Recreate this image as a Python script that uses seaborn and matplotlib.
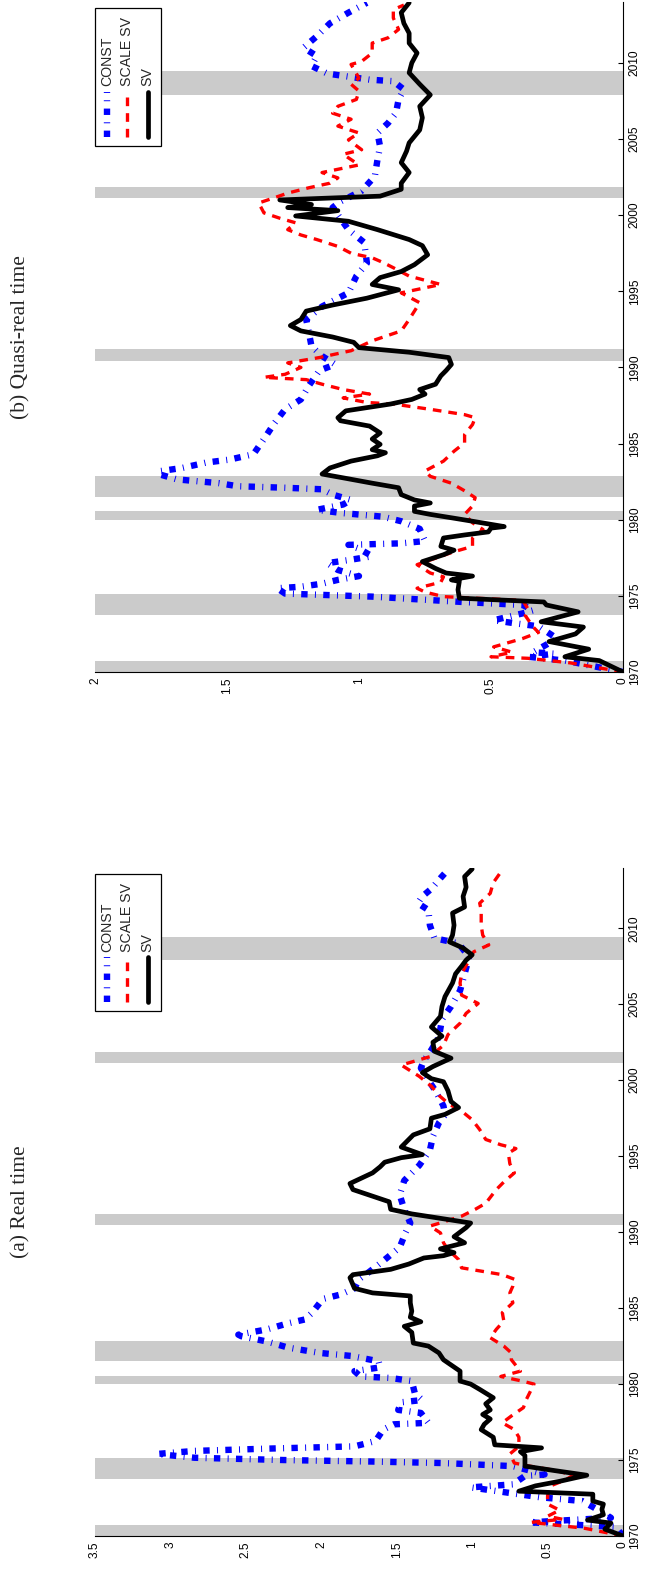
import matplotlib
matplotlib.use("Agg")
import matplotlib.pyplot as plt
from matplotlib.patches import Rectangle
from matplotlib.lines import Line2D
import seaborn as sns
import pandas as pd

# ---------------------------------------------------------------------------
# Data: (a) real-time and (b) quasi-real-time estimates, dated in years
# ---------------------------------------------------------------------------
rt_sv_years = [1970.0, 1970.45, 1970.85, 1971.05, 1971.4, 1971.75, 1972.1, 1972.3, 1972.75, 1972.95,
               1973.3, 1973.6, 1974.0, 1974.3, 1974.6, 1975.3, 1975.55, 1975.8, 1976.0, 1976.5,
               1977.0, 1977.35, 1977.7, 1978.0, 1978.3, 1978.7, 1979.1, 1979.65, 1980.0, 1980.2,
               1980.85, 1981.6, 1982.05, 1982.5, 1982.7, 1983.4, 1983.8, 1984.1, 1984.4, 1984.8,
               1985.35, 1985.8, 1986.0, 1986.3, 1987.0, 1987.2, 1987.55, 1987.9, 1988.3, 1988.45,
               1988.65, 1988.9, 1989.3, 1989.7, 1990.3, 1990.6, 1991.2, 1991.5, 1992.0, 1992.8,
               1993.2, 1993.9, 1994.3, 1994.6, 1994.9, 1995.1, 1995.6, 1996.4, 1996.8, 1997.5,
               1997.75, 1998.2, 1998.6, 1999.3, 1999.9, 2000.1, 2000.5, 2000.9, 2001.45, 2001.9,
               2002.5, 2002.9, 2003.5, 2004.2, 2004.85, 2005.5, 2006.4, 2007.0, 2007.5, 2007.9,
               2008.25, 2008.7, 2009.1, 2009.55, 2010.2, 2011.0, 2011.4, 2012.1, 2012.7, 2013.4,
               2013.9]
rt_sv = [0.00, 0.12, 0.08, 0.235, 0.13, 0.14, 0.13, 0.20, 0.20, 0.69,
         0.58, 0.42, 0.24, 0.45, 0.65, 0.65, 0.68, 0.54, 0.85, 0.86,
         0.94, 0.92, 0.88, 0.93, 0.88, 0.91, 0.86, 0.95, 1.01, 1.08,
         1.08, 1.19, 1.22, 1.29, 1.39, 1.40, 1.45, 1.34, 1.41, 1.40,
         1.41, 1.41, 1.66, 1.78, 1.81, 1.79, 1.54, 1.42, 1.32, 1.19,
         1.12, 1.21, 1.05, 1.12, 1.04, 1.01, 1.40, 1.54, 1.55, 1.79,
         1.81, 1.66, 1.61, 1.58, 1.47, 1.33, 1.47, 1.39, 1.28, 1.27,
         1.18, 1.09, 1.14, 1.16, 1.19, 1.27, 1.33, 1.26, 1.14, 1.25,
         1.26, 1.20, 1.27, 1.21, 1.20, 1.18, 1.13, 1.11, 1.07, 1.04,
         1.00, 1.06, 1.15, 1.13, 1.12, 1.13, 1.05, 1.06, 1.04, 1.05,
         1.00]

rt_const_years = [1970.0, 1970.6, 1970.9, 1971.2, 1971.8, 1972.3, 1972.55, 1973.2, 1973.4, 1973.95,
                  1974.05, 1974.6, 1974.8, 1974.9, 1975.0, 1975.15, 1975.4, 1975.6, 1975.75, 1975.9,
                  1976.25, 1977.0, 1977.35, 1977.45, 1978.1, 1978.3, 1978.8, 1978.95, 1979.4, 1980.2,
                  1980.4, 1980.5, 1980.85, 1981.1, 1981.5, 1981.85, 1982.05, 1982.4, 1982.8, 1983.15,
                  1983.25, 1983.6, 1984.0, 1984.25, 1984.7, 1985.6, 1985.9, 1986.3, 1986.9, 1987.4,
                  1988.1, 1989.0, 1990.0, 1990.6, 1991.5, 1992.45, 1993.4, 1994.4, 1995.4, 1996.3,
                  1997.2, 1997.7, 1998.3, 1999.25, 2000.0, 2000.8, 2001.3, 2002.0, 2002.85, 2004.0,
                  2004.85, 2005.9, 2007.0, 2008.1, 2009.0, 2009.35, 2010.2, 2011.2, 2011.65, 2012.1,
                  2012.6, 2013.3, 2013.85]
rt_const = [0.00, 0.05, 0.62, 0.08, 0.18, 0.27, 0.55, 1.01, 0.73, 0.65,
            0.52, 0.73, 1.19, 1.66, 2.25, 2.84, 3.09, 2.84, 2.36, 1.78,
            1.64, 1.59, 1.52, 1.29, 1.34, 1.49, 1.47, 1.33, 1.38, 1.40,
            1.54, 1.74, 1.78, 1.61, 1.62, 1.80, 2.01, 2.22, 2.36, 2.53,
            2.55, 2.36, 2.22, 2.11, 2.06, 1.99, 1.87, 1.78, 1.75, 1.68,
            1.59, 1.48, 1.44, 1.41, 1.45, 1.48, 1.45, 1.35, 1.28, 1.26,
            1.22, 1.18, 1.19, 1.24, 1.29, 1.34, 1.32, 1.27, 1.22, 1.20,
            1.14, 1.08, 1.05, 1.02, 1.09, 1.25, 1.28, 1.29, 1.36, 1.33,
            1.27, 1.21, 1.16]

rt_scale_years = [1970.0, 1970.5, 1970.9, 1971.1, 1971.3, 1971.7, 1972.1, 1972.65, 1973.3, 1973.7,
                  1974.0, 1974.3, 1974.6, 1974.8, 1975.4, 1975.9, 1976.5, 1977.0, 1977.45, 1977.9,
                  1978.45, 1979.0, 1980.0, 1980.2, 1980.5, 1980.85, 1981.6, 1982.05, 1982.5, 1983.05,
                  1983.6, 1984.15, 1984.7, 1985.35, 1986.0, 1986.45, 1986.9, 1987.2, 1987.65, 1988.2,
                  1988.85, 1989.3, 1989.95, 1990.4, 1990.7, 1991.05, 1991.5, 1991.9, 1992.8, 1993.3,
                  1993.9, 1994.5, 1995.2, 1995.5, 1995.75, 1996.1, 1996.75, 1997.4, 1998.05, 1998.4,
                  1999.0, 1999.6, 2000.25, 2001.0, 2001.2, 2001.55, 2002.3, 2003.0, 2003.75, 2004.4,
                  2005.05, 2005.6, 2006.4, 2007.0, 2007.9, 2008.45, 2008.9, 2009.55, 2010.2, 2011.2,
                  2011.65, 2012.3, 2013.0, 2013.7]
rt_scale = [0.00, 0.25, 0.61, 0.40, 0.50, 0.42, 0.50, 0.50, 0.48, 0.38,
            0.33, 0.44, 0.62, 0.72, 0.75, 0.69, 0.69, 0.72, 0.80, 0.74,
            0.66, 0.64, 0.59, 0.67, 0.81, 0.68, 0.74, 0.74, 0.79, 0.88,
            0.84, 0.79, 0.80, 0.73, 0.75, 0.73, 0.72, 0.80, 1.07, 1.09,
            1.16, 1.19, 1.21, 1.28, 1.18, 1.07, 0.98, 0.91, 0.84, 0.79,
            0.72, 0.75, 0.76, 0.71, 0.81, 0.91, 0.95, 1.00, 1.08, 1.15,
            1.22, 1.27, 1.35, 1.47, 1.40, 1.28, 1.19, 1.16, 1.08, 1.04,
            0.96, 1.07, 1.08, 1.07, 1.02, 0.99, 0.89, 0.93, 0.94, 0.94,
            0.95, 0.88, 0.86, 0.81]

qrt_sv_years = [1970.0, 1970.75, 1971.0, 1971.5, 1972.0, 1972.5, 1972.95, 1973.3, 1973.95, 1974.4,
                1974.6, 1974.85, 1975.4, 1975.95, 1976.05, 1976.3, 1976.5, 1976.8, 1977.25, 1977.7,
                1978.0, 1978.25, 1978.8, 1979.0, 1979.2, 1979.45, 1979.55, 1979.9, 1980.1, 1980.35,
                1980.55, 1980.9, 1981.1, 1981.3, 1981.65, 1982.1, 1982.4, 1982.75, 1983.0, 1983.4,
                1983.85, 1984.2, 1984.4, 1984.6, 1984.95, 1985.3, 1985.7, 1986.15, 1986.5, 1986.7,
                1987.15, 1987.6, 1987.9, 1988.25, 1988.55, 1988.9, 1989.45, 1989.8, 1990.2, 1990.65,
                1991.0, 1991.3, 1991.65, 1992.0, 1992.4, 1992.75, 1993.15, 1993.7, 1994.1, 1994.55,
                1995.1, 1995.45, 1995.9, 1996.3, 1996.75, 1997.4, 1998.0, 1998.4, 1999.05, 1999.6,
                1999.95, 2000.3, 2000.5, 2000.7, 2001.0, 2001.25, 2001.7, 2002.1, 2002.8, 2003.45,
                2004.2, 2004.75, 2005.6, 2006.4, 2007.15, 2007.9, 2008.6, 2009.35, 2010.0, 2010.65,
                2011.3, 2011.95, 2012.6, 2013.3, 2013.95]
qrt_sv = [0.00, 0.09, 0.22, 0.13, 0.28, 0.18, 0.15, 0.31, 0.17, 0.29,
          0.30, 0.62, 0.625, 0.62, 0.65, 0.57, 0.67, 0.71, 0.76, 0.68,
          0.64, 0.69, 0.68, 0.60, 0.51, 0.50, 0.45, 0.57, 0.64, 0.73,
          0.79, 0.79, 0.73, 0.79, 0.84, 0.85, 0.95, 1.06, 1.14, 1.11,
          1.03, 0.93, 0.90, 0.95, 0.92, 0.95, 0.92, 0.96, 1.07, 1.08,
          1.05, 0.88, 0.80, 0.75, 0.77, 0.71, 0.69, 0.67, 0.65, 0.66,
          0.81, 1.00, 1.02, 1.10, 1.22, 1.26, 1.22, 1.20, 1.10, 0.97,
          0.85, 0.95, 0.92, 0.84, 0.79, 0.74, 0.76, 0.81, 0.93, 1.04,
          1.24, 1.08, 1.27, 1.18, 1.30, 0.92, 0.84, 0.84, 0.81, 0.84,
          0.82, 0.81, 0.77, 0.76, 0.77, 0.73, 0.77, 0.81, 0.80, 0.78,
          0.81, 0.81, 0.83, 0.84, 0.81]

qrt_const_years = [1970.0, 1970.75, 1971.0, 1971.2, 1971.3, 1972.2, 1973.0, 1973.2, 1973.4, 1973.85,
                   1974.05, 1974.4, 1974.6, 1974.95, 1975.15, 1975.5, 1975.6, 1975.8, 1976.05, 1976.3,
                   1976.7, 1977.15, 1977.35, 1977.6, 1978.1, 1978.35, 1978.45, 1978.6, 1979.4, 1979.9,
                   1980.2, 1980.45, 1980.65, 1981.0, 1981.3, 1981.65, 1982.0, 1982.1, 1982.2, 1982.4,
                   1982.65, 1983.0, 1983.2, 1983.4, 1983.75, 1983.95, 1984.3, 1985.3, 1986.35, 1987.25,
                   1987.9, 1988.8, 1989.8, 1990.2, 1990.75, 1991.4, 1992.3, 1993.15, 1994.0, 1994.9,
                   1996.0, 1996.85, 1998.2, 1999.05, 2000.5, 2000.9, 2001.6, 2002.55, 2003.65, 2004.5,
                   2005.4, 2006.05, 2006.7, 2007.6, 2008.25, 2008.8, 2008.9, 2009.1, 2009.3, 2009.8,
                   2010.45, 2011.0, 2011.75, 2012.6, 2013.3, 2013.95]
qrt_const = [0.00, 0.22, 0.36, 0.26, 0.34, 0.25, 0.32, 0.41, 0.49, 0.38,
             0.34, 0.38, 0.61, 0.95, 1.28, 1.31, 1.22, 1.14, 1.08, 1.00,
             1.08, 1.12, 1.04, 0.95, 1.00, 1.04, 0.84, 0.75, 0.77, 0.84,
             0.91, 1.07, 1.16, 1.06, 1.03, 1.10, 1.14, 1.28, 1.46, 1.53,
             1.69, 1.76, 1.75, 1.67, 1.58, 1.49, 1.40, 1.36, 1.32, 1.28,
             1.22, 1.19, 1.15, 1.09, 1.14, 1.18, 1.19, 1.20, 1.14, 1.04,
             1.01, 0.97, 0.98, 1.04, 1.10, 1.07, 0.99, 0.94, 0.93, 0.92,
             0.93, 0.89, 0.86, 0.85, 0.83, 0.87, 0.96, 1.04, 1.12, 1.18,
             1.16, 1.21, 1.16, 1.11, 1.04, 0.97]

qrt_scale_years = [1970.0, 1970.6, 1970.9, 1971.0, 1971.3, 1971.65, 1972.2, 1972.6, 1972.95, 1973.7,
                   1974.15, 1974.7, 1974.95, 1975.25, 1975.5, 1975.9, 1976.25, 1976.5, 1977.05, 1977.6,
                   1977.9, 1978.25, 1978.8, 1979.35, 1979.8, 1980.35, 1980.9, 1981.45, 1981.9, 1982.4,
                   1982.85, 1983.2, 1983.85, 1984.5, 1985.05, 1985.6, 1986.25, 1986.7, 1986.9, 1987.25,
                   1987.6, 1987.7, 1988.0, 1988.25, 1988.55, 1988.9, 1989.2, 1989.35, 1989.55, 1990.0,
                   1990.3, 1990.65, 1991.1, 1991.75, 1992.4, 1993.15, 1993.7, 1994.25, 1994.9, 1995.45,
                   1996.0, 1996.55, 1996.9, 1997.2, 1997.5, 1997.95, 1998.4, 1998.7, 1999.05, 1999.5,
                   1999.8, 2000.15, 2000.8, 2001.15, 2001.45, 2001.8, 2002.1, 2002.45, 2002.8, 2003.3,
                   2004.0, 2004.3, 2004.95, 2005.4, 2005.85, 2006.3, 2006.7, 2007.15, 2007.6, 2008.15,
                   2008.6, 2009.0, 2009.9, 2010.1, 2010.65, 2011.3, 2011.65, 2012.2, 2012.95, 2013.5,
                   2013.8]
qrt_scale = [0.00, 0.20, 0.36, 0.50, 0.42, 0.49, 0.38, 0.32, 0.34, 0.37,
             0.36, 0.38, 0.68, 0.75, 0.78, 0.69, 0.68, 0.73, 0.78, 0.69,
             0.64, 0.57, 0.57, 0.53, 0.57, 0.60, 0.57, 0.56, 0.60, 0.65,
             0.73, 0.75, 0.68, 0.64, 0.60, 0.60, 0.57, 0.56, 0.60, 0.73,
             0.87, 0.97, 1.06, 0.96, 1.06, 1.14, 1.20, 1.36, 1.28, 1.22,
             1.27, 1.15, 1.03, 0.95, 0.84, 0.81, 0.79, 0.77, 0.84, 0.69,
             0.81, 0.87, 0.91, 0.95, 1.03, 1.08, 1.16, 1.22, 1.27, 1.24,
             1.30, 1.36, 1.38, 1.32, 1.27, 1.19, 1.11, 1.08, 1.14, 1.00,
             1.06, 0.99, 1.04, 1.00, 1.08, 1.03, 1.10, 1.08, 1.01, 1.00,
             1.03, 1.00, 1.03, 0.99, 0.95, 0.95, 0.89, 0.85, 0.87, 0.87,
             0.83]

# NBER recession periods (start, end), in years
recession_start = [1969.9, 1973.75, 1980.0, 1981.5, 1990.45, 2001.1, 2007.9]
recession_end = [1970.75, 1975.15, 1980.55, 1982.85, 1991.2, 2001.85, 2009.45]

series_labels = ["CONST", "SCALE SV", "SV"]
rt_ticks = [0, 0.5, 1, 1.5, 2, 2.5, 3, 3.5]
rt_tick_labels = ["0", "0.5", "1", "1.5", "2", "2.5", "3", "3.5"]
qrt_ticks = [0, 0.5, 1, 1.5, 2]
qrt_tick_labels = ["0", "0.5", "1", "1.5", "2"]
year_ticks = [1970, 1975, 1980, 1985, 1990, 1995, 2000, 2005, 2010]

# ---------------------------------------------------------------------------
# Styling
# ---------------------------------------------------------------------------
sns.set_style("white")
plt.rcParams["font.family"] = ["Liberation Sans", "DejaVu Sans"]
plt.rcParams["axes.linewidth"] = 0.8

BLUE = "#0000ff"
RED = "#ff0000"
BLACK = "#000000"
BAND = "#cbcbcb"

styles = {
    "CONST": dict(color=BLUE, linewidth=4.6,
                  linestyle=(0, (1.0, 1.15, 0.15, 1.15)), dash_capstyle="butt"),
    "SCALE SV": dict(color=RED, linewidth=2.4,
                     linestyle=(0, (2.6, 2.1)), dash_capstyle="butt"),
    "SV": dict(color=BLACK, linewidth=3.4, linestyle="-", solid_joinstyle="round"),
}

W, H = 645, 1571
fig = plt.figure(figsize=(W / 100, H / 100), dpi=100)

# axes boxes in pixels: left, right, top, bottom (value axis runs right-to-left)
panels = [
    dict(box=(95, 623, 867.5, 1536), vmax=3.5, ticks=rt_ticks, labels=rt_tick_labels,
         title="(a) Real time",
         data={"CONST": (rt_const_years, rt_const),
               "SCALE SV": (rt_scale_years, rt_scale),
               "SV": (rt_sv_years, rt_sv)}),
    dict(box=(95, 623, 2, 672), vmax=2.0, ticks=qrt_ticks, labels=qrt_tick_labels,
         title="(b) Quasi-real time",
         data={"CONST": (qrt_const_years, qrt_const),
               "SCALE SV": (qrt_scale_years, qrt_scale),
               "SV": (qrt_sv_years, qrt_sv)}),
]

for p in panels:
    l, r, t, b = p["box"]
    ax = fig.add_axes([l / W, (H - b) / H, (r - l) / W, (b - t) / H])

    for s, e in zip(recession_start, recession_end):
        ax.axhspan(s, e, color=BAND, lw=0, zorder=0.5)

    for name in series_labels:
        yrs, vals = p["data"][name]
        df = pd.DataFrame({"year": yrs, "value": vals})
        sns.lineplot(data=df, x="value", y="year", orient="y", estimator=None,
                     ax=ax, legend=False, **styles[name])

    ax.set_xlim(p["vmax"], 0)
    ax.set_ylim(1970, 2014)
    ax.set_xlabel("")
    ax.set_ylabel("")

    ax.set_xticks(p["ticks"])
    ax.set_xticklabels(p["labels"])
    ax.set_yticks(year_ticks)
    ax.set_yticklabels([str(y) for y in year_ticks])
    ax.yaxis.tick_right()

    for side in ("top", "left"):
        ax.spines[side].set_visible(False)
    for side in ("bottom", "right"):
        ax.spines[side].set_color("black")
        ax.spines[side].set_linewidth(0.8)

    ax.tick_params(axis="both", direction="in", length=3.6, width=0.8, colors="black",
                   labelsize=8.6, pad=4)
    ax.tick_params(axis="x", labelrotation=90)
    ax.tick_params(axis="y", labelrotation=90, right=True, left=False)
    for lbl in ax.get_yticklabels():
        lbl.set_va("center")
        lbl.set_ha("left")

    # legend box drawn in rotated orientation
    ax.add_patch(Rectangle((0.0, 0.785), 0.125, 0.206, transform=ax.transAxes,
                           facecolor="white", edgecolor="black", lw=0.9, zorder=5,
                           clip_on=False))
    for xc, name in zip([0.0235, 0.0605, 0.0995], series_labels):
        st = dict(styles[name])
        ax.add_line(Line2D([xc, xc], [0.799, 0.866], transform=ax.transAxes,
                           zorder=6, clip_on=False, **st))
        ax.text(xc, 0.874, name, rotation=90, ha="center", va="bottom",
                fontsize=10.2, transform=ax.transAxes, zorder=6)

    ax.text(-0.140, 0.5, p["title"], rotation=90, ha="center", va="center",
            fontsize=15.5, transform=ax.transAxes,
            family=["Liberation Serif", "DejaVu Serif"])

fig.savefig("out.png", dpi=100)
